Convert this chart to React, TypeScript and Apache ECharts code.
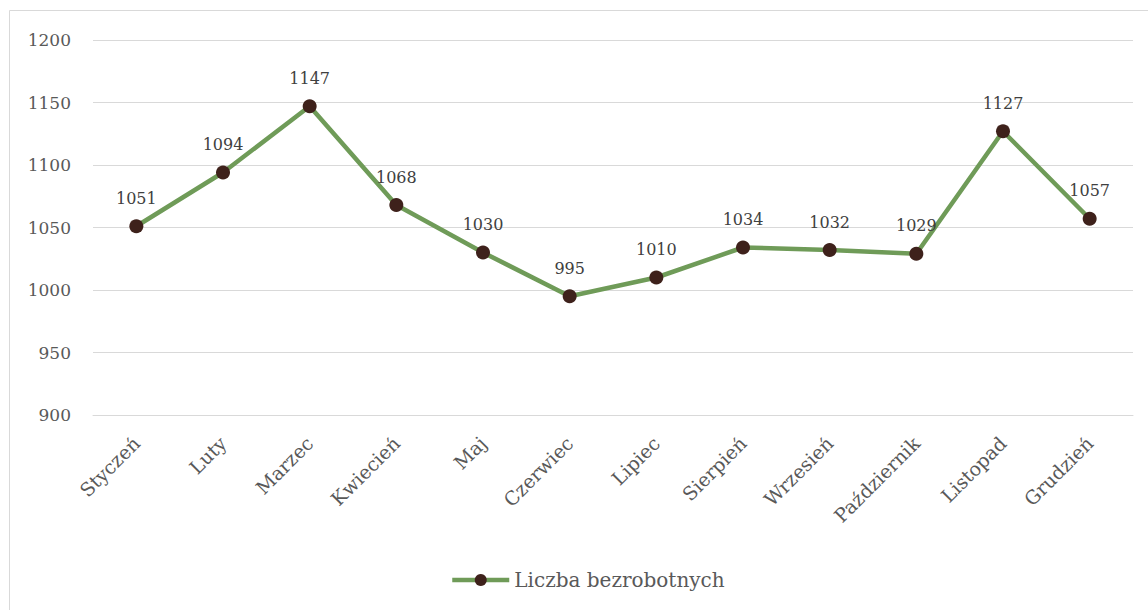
import React, { useEffect, useRef } from "react";
import * as echarts from "echarts";

const categories = ["Styczeń", "Luty", "Marzec", "Kwiecień", "Maj", "Czerwiec", "Lipiec", "Sierpień", "Wrzesień", "Październik", "Listopad", "Grudzień"];
const values = [1051, 1094, 1147, 1068, 1030, 995, 1010, 1034, 1032, 1029, 1127, 1057];
const seriesName = "Liczba bezrobotnych";
const yMin = 900;
const yMax = 1200;
const yStep = 50;

const FONT = "'DejaVu Serif', 'Liberation Serif', serif";

export default function App() {
  const ref = useRef<HTMLDivElement>(null);
  useEffect(() => {
    document.body.style.margin = "0";
    const chart = echarts.init(ref.current!, null, { renderer: "svg" });
    chart.setOption({
      animation: false,
      backgroundColor: "#ffffff",
      textStyle: { fontFamily: FONT },
      graphic: [
        {
          type: "rect",
          shape: { x: 9.5, y: 10.5, width: 1150, height: 620 },
          style: { fill: "none", stroke: "#d9d9d9", lineWidth: 1 },
          silent: true,
        },
      ],
      grid: { left: 93, right: 15, top: 40, bottom: 195, containLabel: false },
      legend: {
        left: 445,
        top: 565,
        itemWidth: 57,
        itemHeight: 15,
        itemGap: 4,
        lineStyle: { width: 4.5, color: "#6f9b58" },
        textStyle: { fontFamily: FONT, fontSize: 20, color: "#595959" },
        data: [seriesName],
      },
      xAxis: {
        type: "category",
        data: categories,
        boundaryGap: true,
        axisLine: { show: true, lineStyle: { color: "#d9d9d9", width: 1 } },
        axisTick: { show: false },
        axisLabel: { rotate: 45, margin: 25, fontFamily: FONT, fontSize: 19, color: "#595959", interval: 0 },
      },
      yAxis: {
        type: "value",
        min: yMin,
        max: yMax,
        interval: yStep,
        axisLine: { show: false },
        axisTick: { show: false },
        axisLabel: {
          margin: 22,
          fontFamily: FONT,
          fontSize: 17,
          color: "#595959",
          formatter: (v: number) => String(v),
        },
        splitLine: { lineStyle: { color: "#d9d9d9", width: 1 } },
      },
      series: [
        {
          name: seriesName,
          type: "line",
          data: values,
          symbol: "circle",
          symbolSize: 14,
          itemStyle: { color: "#3e211b" },
          lineStyle: { color: "#6f9b58", width: 4.5 },
          label: {
            show: true,
            position: "top",
            distance: 13,
            fontFamily: FONT,
            fontSize: 16,
            color: "#404040",
          },
        },
      ],
    });
    return () => chart.dispose();
  }, []);
  return <div ref={ref} style={{ width: 1148, height: 610 }} />;
}
